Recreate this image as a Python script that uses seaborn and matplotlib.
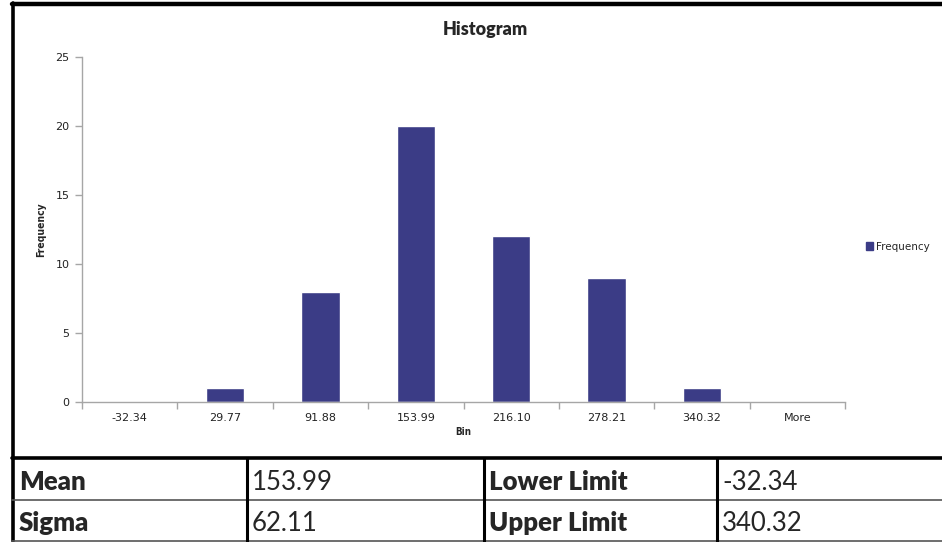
import seaborn as sns
import matplotlib.pyplot as plt
from matplotlib.lines import Line2D
from matplotlib.patches import Patch

# data
bins = ["-32.34", "29.77", "91.88", "153.99", "216.10", "278.21", "340.32", "More"]
frequency = [0, 1, 8, 20, 12, 9, 1, 0]

stat_names_left = ["Mean", "Sigma"]
stat_values_left = ["153.99", "62.11"]
stat_names_right = ["Lower Limit", "Upper Limit"]
stat_values_right = ["-32.34", "340.32"]

BAR_COLOR = "#3B3C86"
AXIS_GREY = "#A6A6A6"

sns.set_theme(style="white")
plt.rcParams["font.family"] = ["DejaVu Sans"]

W, H = 942, 542
fig = plt.figure(figsize=(W / 100, H / 100), dpi=100)


def px_axes(x0, y0, x1, y1):
    """axes rectangle given in pixel coords (top-left origin)"""
    return [x0 / W, 1 - y1 / H, (x1 - x0) / W, (y1 - y0) / H]


# overlay for borders and the table
over = fig.add_axes([0, 0, 1, 1])
over.set_xlim(0, W)
over.set_ylim(H, 0)
over.axis("off")

# chart
ax = fig.add_axes(px_axes(82, 57, 845, 402))
df = {"Bin": bins, "Frequency": frequency}
sns.barplot(x="Bin", y="Frequency", data=df, color=BAR_COLOR, width=0.4,
            saturation=1, ax=ax, label="Frequency")
ax.set_xlim(-0.5, len(bins) - 0.5)
ax.set_ylim(0, 25)
ax.set_yticks(range(0, 26, 5))

for side in ["top", "right"]:
    ax.spines[side].set_visible(False)
for side in ["left", "bottom"]:
    ax.spines[side].set_color(AXIS_GREY)
    ax.spines[side].set_linewidth(1.0)

ax.tick_params(axis="y", which="major", direction="out", length=5, width=1,
               color=AXIS_GREY, labelsize=8, pad=4, left=True)
ax.tick_params(axis="x", which="major", length=0, labelsize=8, pad=8)
ax.set_xticks([i - 0.5 for i in range(len(bins) + 1)], minor=True)
ax.tick_params(axis="x", which="minor", direction="out", length=5, width=1,
               color=AXIS_GREY, bottom=True)
for lbl in ax.get_xticklabels() + ax.get_yticklabels():
    lbl.set_color("#222222")

ax.set_xlabel("Bin", fontsize=7, fontweight="bold", fontstretch="condensed",
              labelpad=3)
ax.set_ylabel("Frequency", fontsize=7.5, fontweight="bold",
              fontstretch="condensed", labelpad=7)

leg = ax.legend(handles=[Patch(color=BAR_COLOR, label="Frequency")],
                loc="center left", bbox_to_anchor=(1.015, 0.45), frameon=False,
                fontsize=7.5, handlelength=0.7, handleheight=0.7,
                handletextpad=0.3)

fig.text(485 / W, 1 - 30 / H, "Histogram", ha="center", va="center",
         fontsize=13, fontweight="heavy", family=["Lato", "DejaVu Sans"])

# chart border (left + top) and table grid
over.add_line(Line2D([12.5, 12.5], [3, 541], color="black", lw=2.6))
over.add_line(Line2D([12, W], [4, 4], color="black", lw=3.2))
over.add_line(Line2D([12, W], [458, 458], color="black", lw=2.6))
over.add_line(Line2D([12, W], [500, 500], color="#555555", lw=1.2))
over.add_line(Line2D([12, W], [541, 541], color="#555555", lw=1.2))
for xv in [247, 484, 717]:
    over.add_line(Line2D([xv, xv], [458, 542], color="black", lw=2.2))

row_y = [480, 521]
fs = 18.5
for i in range(2):
    over.text(19, row_y[i], stat_names_left[i], fontsize=fs, fontweight="heavy",
              va="center_baseline", ha="left", family=["Lato", "DejaVu Sans"])
    over.text(252, row_y[i], stat_values_left[i], fontsize=fs,
              va="center_baseline", ha="left", family=["Lato", "DejaVu Sans"])
    over.text(489, row_y[i], stat_names_right[i], fontsize=fs, fontweight="heavy",
              va="center_baseline", ha="left", family=["Lato", "DejaVu Sans"])
    over.text(722, row_y[i], stat_values_right[i], fontsize=fs,
              va="center_baseline", ha="left", family=["Lato", "DejaVu Sans"])

fig.savefig("out.png", dpi=100)
